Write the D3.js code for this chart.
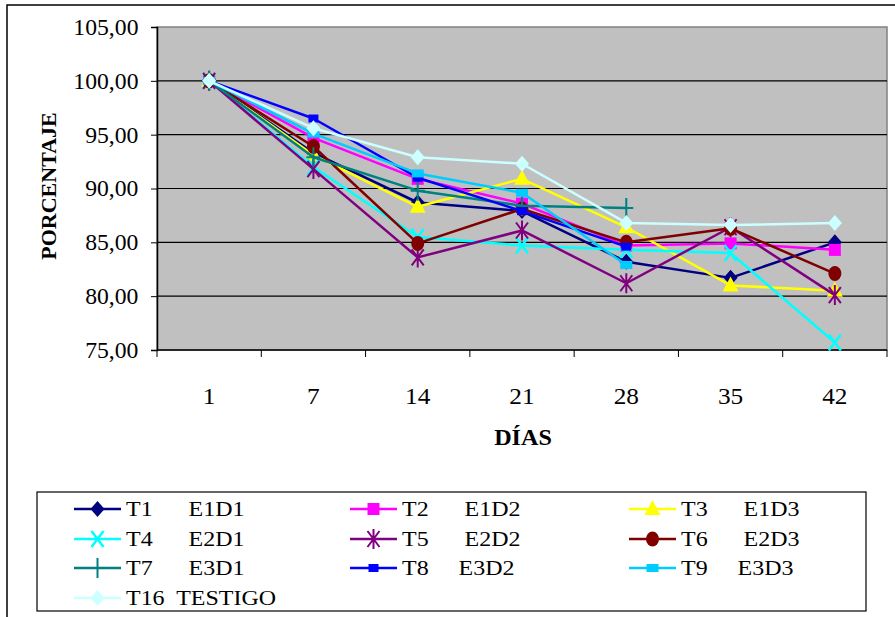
<!DOCTYPE html>
<html>
<head>
<meta charset="utf-8">
<script src="https://cdn.jsdelivr.net/npm/d3@7"></script>
<style>
  html, body { margin: 0; padding: 0; background: #ffffff; }
  svg { display: block; }
  svg text { font-family: "Liberation Serif", "Times New Roman", Times, serif; }
  .legend-label { white-space: pre; }
</style>
</head>
<body>
<svg id="chart" width="895" height="617"></svg>
<script>
// Days of measurement (x categories)
const days = ["1", "7", "14", "21", "28", "35", "42"];

// Y axis ticks
const yTicks = [75, 80, 85, 90, 95, 100, 105];

// Series names as shown in the legend
const seriesLabels = [
  "T1      E1D1", "T2      E1D2", "T3      E1D3",
  "T4      E2D1", "T5      E2D2", "T6      E2D3",
  "T7      E3D1", "T8     E3D2", "T9     E3D3",
  "T16  TESTIGO"
];

// Percentage values per treatment (null = not measured)
const t1  = [100, 93.3, 88.7, 87.9, 83.2, 81.7, 85.0];
const t2  = [100, 94.7, 90.9, 88.6, 84.7, 84.9, 84.3];
const t3  = [100, 93.1, 88.3, 90.9, 86.4, 81.0, 80.5];
const t4  = [100, 92.0, 85.5, 84.7, 84.3, 84.0, 75.7];
const t5  = [100, 91.8, 83.6, 86.1, 81.2, 86.4, 80.1];
const t6  = [100, 93.9, 84.9, 88.1, 85.0, 86.3, 82.1];
const t7  = [100, 92.9, 89.8, 88.4, 88.2, null, null];
const t8  = [100, 96.5, 91.0, 87.9, 84.6, null, null];
const t9  = [100, 95.1, 91.4, 89.6, 82.9, null, null];
const t16 = [100, 95.6, 92.9, 92.3, 86.8, 86.6, 86.8];

const seriesValues = [t1, t2, t3, t4, t5, t6, t7, t8, t9, t16];
const seriesColors = ["#000080", "#FF00FF", "#FFFF00", "#00FFFF", "#800080",
                      "#800000", "#008080", "#0000FF", "#00CCFF", "#CCFFFF"];
const seriesMarkers = ["diamond", "square", "triangle", "x", "star",
                       "circle", "plus", "dash", "bar", "diamond"];

// Text is drawn slightly wide, like the printed chart
const STRETCH = 1.1;

const svg = d3.select("#chart");

// Outer frame
svg.append("rect")
  .attr("x", 7).attr("y", 5).attr("width", 900).attr("height", 620)
  .attr("fill", "none").attr("stroke", "#000").attr("stroke-width", 1.5);

const plot = { left: 157, right: 887, top: 27, bottom: 350 };

const x = d3.scaleBand().domain(days).range([plot.left, plot.right]).padding(0);
const y = d3.scaleLinear().domain([75, 105]).range([plot.bottom, plot.top]);

// Plot background
svg.append("rect")
  .attr("x", plot.left).attr("y", plot.top)
  .attr("width", plot.right - plot.left).attr("height", plot.bottom - plot.top)
  .attr("fill", "#C0C0C0").attr("stroke", "#808080").attr("stroke-width", 1.5);

// Horizontal gridlines
svg.append("g")
  .selectAll("line")
  .data(yTicks.filter(v => v > 75 && v < 105))
  .join("line")
  .attr("x1", plot.left).attr("x2", plot.right)
  .attr("y1", d => y(d)).attr("y2", d => y(d))
  .attr("stroke", "#000").attr("stroke-width", 1.2);

// Y axis
const yAxis = d3.axisLeft(y)
  .tickValues(yTicks)
  .tickSize(6)
  .tickPadding(12)
  .tickFormat(d => d3.format(".2f")(d).replace(".", ","));
const gy = svg.append("g").attr("transform", `translate(${plot.left},0)`).call(yAxis)
  .attr("font-family", null).attr("font-size", 23);
gy.select(".domain").attr("stroke", "#000").attr("stroke-width", 1.5);
gy.selectAll(".tick line").attr("stroke", "#000");
gy.selectAll(".tick text").attr("fill", "#000").attr("transform", "scale(1.03,1)");

// X axis: ticks at category boundaries, labels at category centres
const gx = svg.append("g");
gx.append("line")
  .attr("x1", plot.left).attr("x2", plot.right)
  .attr("y1", plot.bottom).attr("y2", plot.bottom)
  .attr("stroke", "#000").attr("stroke-width", 1.5);
const boundaries = days.map(d => x(d)).concat([x(days[days.length - 1]) + x.bandwidth()]);
gx.selectAll("line.tk")
  .data(boundaries)
  .join("line").attr("class", "tk")
  .attr("x1", d => d).attr("x2", d => d)
  .attr("y1", plot.bottom).attr("y2", plot.bottom + 7)
  .attr("stroke", "#000").attr("stroke-width", 1);
gx.selectAll("text")
  .data(days)
  .join("text")
  .attr("transform", d => `translate(${x(d) + x.bandwidth() / 2},404) scale(${STRETCH},1)`)
  .attr("text-anchor", "middle")
  .attr("font-size", 23)
  .text(d => d);

// Axis titles
svg.append("text")
  .attr("transform", `translate(523,445) scale(1.05,1)`)
  .attr("text-anchor", "middle")
  .attr("font-size", 23).attr("font-weight", "bold")
  .text("DÍAS");
svg.append("text")
  .attr("transform", "translate(56,186) rotate(-90)")
  .attr("text-anchor", "middle")
  .attr("font-size", 22).attr("font-weight", "bold")
  .text("PORCENTAJE");

// Marker drawing
function drawMarker(g, type, color, cx, cy) {
  switch (type) {
    case "diamond":
      g.append("path")
        .attr("d", `M${cx},${cy - 8}L${cx + 7},${cy}L${cx},${cy + 8}L${cx - 7},${cy}Z`)
        .attr("fill", color);
      break;
    case "square":
      g.append("rect").attr("x", cx - 6).attr("y", cy - 6).attr("width", 12).attr("height", 12)
        .attr("fill", color);
      break;
    case "triangle":
      g.append("path")
        .attr("d", `M${cx},${cy - 9}L${cx + 8},${cy + 6}L${cx - 8},${cy + 6}Z`)
        .attr("fill", color);
      break;
    case "x":
      g.append("path")
        .attr("d", `M${cx - 6},${cy - 8}L${cx + 6},${cy + 8}M${cx + 6},${cy - 8}L${cx - 6},${cy + 8}`)
        .attr("stroke", color).attr("stroke-width", 2.5).attr("fill", "none");
      break;
    case "star":
      g.append("path")
        .attr("d", `M${cx - 6},${cy - 8}L${cx + 6},${cy + 8}M${cx + 6},${cy - 8}L${cx - 6},${cy + 8}M${cx},${cy - 10}L${cx},${cy + 10}`)
        .attr("stroke", color).attr("stroke-width", 2).attr("fill", "none");
      break;
    case "circle":
      g.append("ellipse").attr("cx", cx).attr("cy", cy).attr("rx", 6.5).attr("ry", 7.5)
        .attr("fill", color);
      break;
    case "plus":
      g.append("path")
        .attr("d", `M${cx},${cy - 10}L${cx},${cy + 10}M${cx - 7},${cy}L${cx + 7},${cy}`)
        .attr("stroke", color).attr("stroke-width", 2).attr("fill", "none");
      break;
    case "dash":
      g.append("rect").attr("x", cx - 5).attr("y", cy - 4).attr("width", 10).attr("height", 8)
        .attr("fill", color);
      break;
    case "bar":
      g.append("rect").attr("x", cx - 6).attr("y", cy - 4).attr("width", 12).attr("height", 8)
        .attr("fill", color);
      break;
  }
}

// Series lines and markers
const line = d3.line()
  .defined(d => d != null)
  .x((d, i) => x(days[i]) + x.bandwidth() / 2)
  .y(d => y(d));

const seriesG = svg.append("g");
seriesValues.forEach((vals, s) => {
  const g = seriesG.append("g");
  g.append("path")
    .attr("d", line(vals))
    .attr("fill", "none")
    .attr("stroke", seriesColors[s])
    .attr("stroke-width", 2.5)
    .attr("stroke-linejoin", "round");
  vals.forEach((v, i) => {
    if (v == null) return;
    drawMarker(g, seriesMarkers[s], seriesColors[s], x(days[i]) + x.bandwidth() / 2, y(v));
  });
});

// Legend
svg.append("rect")
  .attr("x", 37).attr("y", 492).attr("width", 829).attr("height", 119)
  .attr("fill", "#fff").attr("stroke", "#000").attr("stroke-width", 1.2);

const legendCols = [74, 350, 629];
const legendRows = [509, 539, 568, 598];
const legendG = svg.append("g");
seriesLabels.forEach((label, s) => {
  const cx0 = legendCols[s % 3];
  const cy0 = legendRows[Math.floor(s / 3)];
  const g = legendG.append("g");
  g.append("line")
    .attr("x1", cx0).attr("x2", cx0 + 47)
    .attr("y1", cy0).attr("y2", cy0)
    .attr("stroke", seriesColors[s]).attr("stroke-width", 2.5);
  drawMarker(g, seriesMarkers[s], seriesColors[s], cx0 + 23.5, cy0);
  g.append("text")
    .attr("class", "legend-label")
    .attr("transform", `translate(${cx0 + 52},${cy0 + 7}) scale(1.09,1)`)
    .attr("font-size", 22)
    .text(label);
});
</script>
</body>
</html>
